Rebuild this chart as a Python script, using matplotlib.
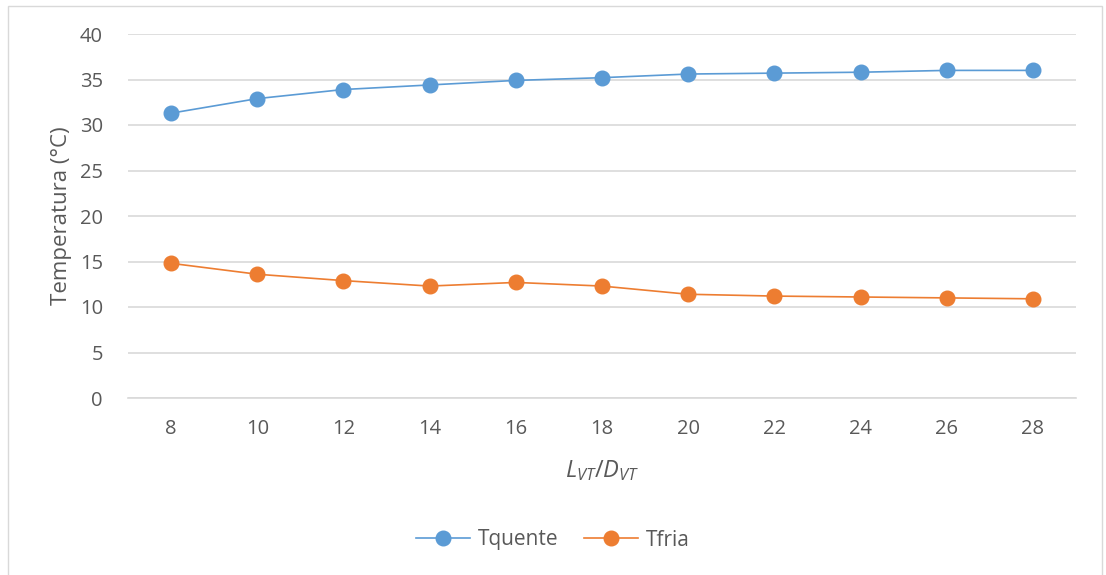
import matplotlib
matplotlib.use("Agg")
import matplotlib.pyplot as plt
from matplotlib.patches import Rectangle

# data
ratios = ["8", "10", "12", "14", "16", "18", "20", "22", "24", "26", "28"]
t_quente = [31.3, 32.9, 33.9, 34.4, 34.9, 35.2, 35.6, 35.7, 35.8, 36.0, 36.0]
t_fria = [14.8, 13.6, 12.9, 12.3, 12.7, 12.3, 11.4, 11.2, 11.1, 11.0, 10.9]

plt.rcParams['font.family'] = ['Open Sans', 'DejaVu Sans']
plt.rcParams['mathtext.fontset'] = 'custom'
plt.rcParams['mathtext.it'] = 'Open Sans:italic'
plt.rcParams['mathtext.rm'] = 'Open Sans'

txt = '#595959'
grid = '#D9D9D9'

fig = plt.figure(figsize=(11.06, 5.75), dpi=100)
ax = fig.add_axes([128/1106, 1-398/575, 948/1106, 364/575])

# outer chart border
fig.patches.append(Rectangle((8/1106, -0.01), 1094/1106, 1-6/575+0.01,
                             transform=fig.transFigure, fill=False,
                             edgecolor=grid, linewidth=1))

x = list(range(len(ratios)))
ax.plot(x, t_quente, color='#5B9BD5', marker='o', markersize=10.5, linewidth=1.2, label='Tquente')
ax.plot(x, t_fria, color='#ED7D31', marker='o', markersize=10.5, linewidth=1.2, label='Tfria')

ax.set_xlim(-0.5, len(ratios) - 0.5)
ax.set_ylim(0, 40)
ax.set_yticks(range(0, 41, 5))
ax.set_xticks(x)
ax.set_xticklabels(ratios)
ax.yaxis.grid(True, color=grid, linewidth=1.2)
ax.set_axisbelow(True)
for s in ['top', 'right', 'left']:
    ax.spines[s].set_visible(False)
ax.spines['bottom'].set_color(grid)
ax.spines['bottom'].set_linewidth(1.2)
ax.tick_params(length=0, labelsize=14.5, colors=txt)
ax.tick_params(axis='x', pad=15)
ax.tick_params(axis='y', pad=18)

ax.set_ylabel('Temperatura (°C)', fontsize=16, color=txt, labelpad=6)
ax.set_xlabel(r'$L_{VT}/D_{VT}$', fontsize=17, color=txt, labelpad=14)

fig.legend(loc='center', bbox_to_anchor=(0.5, 1-540/575), ncol=2, frameon=False,
           fontsize=15, labelcolor=txt, handlelength=2.6, handletextpad=0.4,
           columnspacing=1.2)

fig.savefig('out.png', dpi=100)
